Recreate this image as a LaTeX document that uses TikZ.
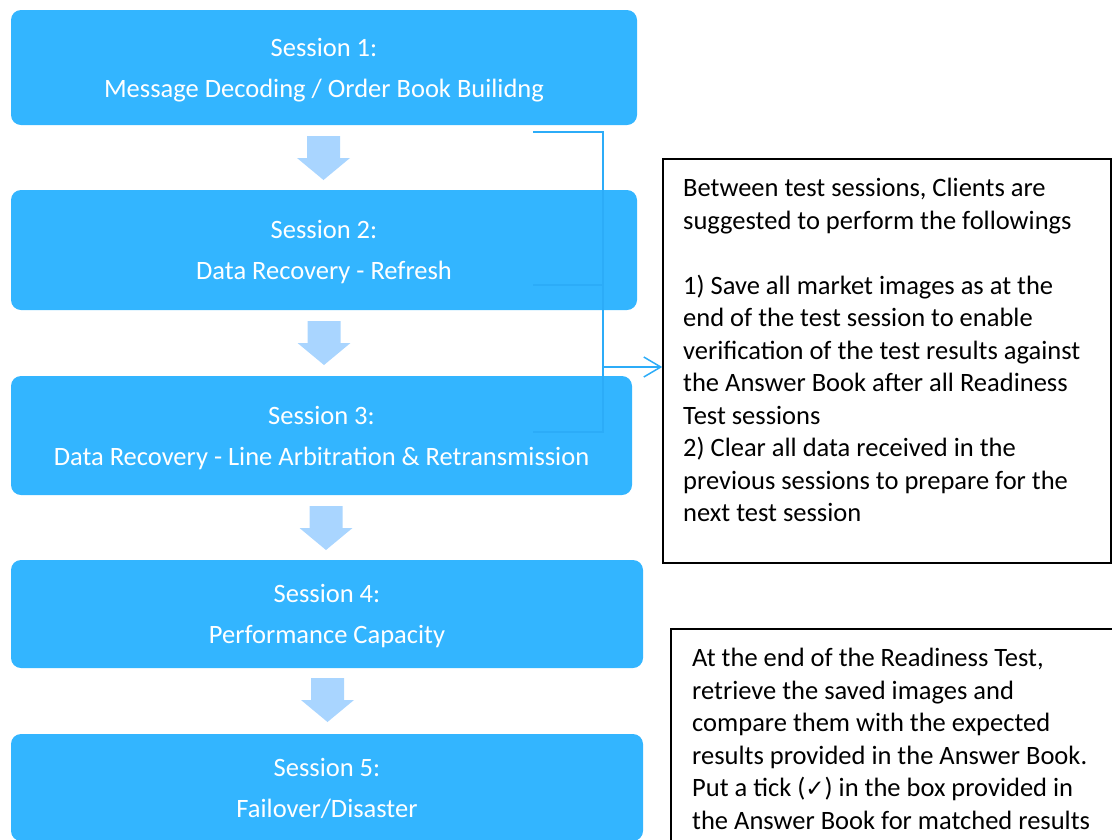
\documentclass[tikz,border=0pt]{standalone}
\usepackage{fontspec}
\setmainfont{Carlito}
\newfontfamily\symfont{DejaVu Sans}
\usetikzlibrary{arrows.meta}
\definecolor{sessblue}{RGB}{51,181,255}
\definecolor{flowblue}{RGB}{169,213,255}
\definecolor{linkblue}{RGB}{44,172,248}

\begin{document}
\begin{tikzpicture}[x=1pt,y=-1pt,
  session/.style={fill=sessblue, rounded corners=10pt, text=white, align=center,
    inner sep=0pt, text depth=0pt, font=\fontsize{26.5}{41}\selectfont},
  notebox/.style={draw=black, line width=1.5pt, inner sep=0pt},
  notetext/.style={anchor=north west, inner sep=0pt, align=left,
    font=\fontsize{26.5}{32.5}\selectfont},
  link/.style={draw=linkblue, line width=1.5pt},
  flowarrow/.style={fill=flowblue}
]
\useasboundingbox (0,0) rectangle (1112,839);
\clip (0,0) rectangle (1112,839);

% session boxes
\node[session, minimum width=626pt, minimum height=115pt] (s1) at (324,67.5)
  {Session 1:\\Message Decoding / Order Book Builidng};
\node[session, minimum width=626pt, minimum height=120pt] (s2) at (324,250)
  {Session 2:\\Data Recovery - Refresh};
\node[session, minimum width=621pt, minimum height=119pt] (s3) at (321.5,435.5)
  {Session 3:\\Data Recovery - Line Arbitration \& Retransmission};
\node[session, minimum width=632pt, minimum height=108pt] (s4) at (327,614)
  {Session 4:\\Performance Capacity};
\node[session, minimum width=632pt, minimum height=107pt] (s5) at (327,787.5)
  {Session 5:\\Failover/Disaster};

% block arrows between sessions: (top of shaft) given, 44 long
\foreach \cx/\ty in {323.5/136, 324/321, 326/506, 327.5/678} {
  \fill[flowarrow] (\cx-16.5,\ty) -- (\cx+16.5,\ty) -- (\cx+16.5,\ty+22)
    -- (\cx+26.5,\ty+22) -- (\cx,\ty+44) -- (\cx-26.5,\ty+22)
    -- (\cx-16.5,\ty+22) -- cycle;
}

% note boxes
\node[notebox, minimum width=448pt, minimum height=404pt] (noteA) at (887,361) {};
\node[notebox, minimum width=454pt, minimum height=231pt] (noteB) at (898,744.5) {};

\node[notetext] (noteAtext) at (683,178) {Between test sessions, Clients are\\
suggested to perform the followings\\[32.5pt]
1) Save all market images as at the\\
end of the test session to enable\\
verification of the test results against\\
the Answer Book after all Readiness\\
Test sessions\\
2) Clear all data received in the\\
previous sessions to prepare for the\\
next test session};

\node[notetext] (noteBtext) at (692,648) {At the end of the Readiness Test,\\
retrieve the saved images and\\
compare them with the expected\\
results provided in the Answer Book.\\
Put a tick ({\symfont\fontsize{23}{23}\selectfont ✓}) in the box provided in\\
the Answer Book for matched results};

% bracket gathering sessions 1-3, pointing at the note
\coordinate (bt) at (533,132);
\coordinate (btc) at (603,132);
\coordinate (bm) at (533,285);
\coordinate (bmc) at (603,285);
\coordinate (bb) at (533,432);
\coordinate (bbc) at (603,432);
\coordinate (tee) at (603,367);
\draw[link] (bt) -- (btc) -- (bbc) -- (bb);
\draw[link] (bm) -- (bmc);
\draw[link, -{Straight Barb[length=17pt,width=20pt]}] (tee) -- (noteA.west |- tee);
\end{tikzpicture}
\end{document}
